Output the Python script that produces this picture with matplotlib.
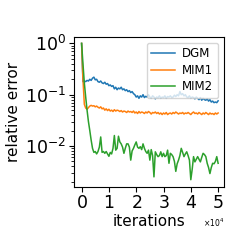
import numpy as np
import matplotlib
matplotlib.use('Agg')
import matplotlib.pyplot as plt
from matplotlib.ticker import MultipleLocator

# iteration at which each error was logged
iterations = np.arange(0, 50001, 500)

dgm = [1.0, 0.18, 0.185, 0.18, 0.19, 0.185, 0.2, 0.19, 0.21, 0.22,
       0.195, 0.2, 0.18, 0.175, 0.185, 0.17, 0.165, 0.175, 0.16, 0.165,
       0.15, 0.155, 0.145, 0.15, 0.13, 0.14, 0.125, 0.135, 0.13, 0.14,
       0.125, 0.13, 0.12, 0.125, 0.115, 0.12, 0.11, 0.115, 0.105, 0.1,
       0.09, 0.095, 0.085, 0.095, 0.09, 0.1, 0.088, 0.093, 0.09, 0.1,
       0.09, 0.085, 0.095, 0.09, 0.083, 0.09, 0.087, 0.095, 0.085, 0.09,
       0.088, 0.095, 0.085, 0.092, 0.09, 0.095, 0.088, 0.09, 0.098, 0.092,
       0.1, 0.095, 0.115, 0.1, 0.105, 0.095, 0.1, 0.09, 0.088, 0.095,
       0.085, 0.09, 0.088, 0.083, 0.09, 0.085, 0.08, 0.088, 0.078, 0.085,
       0.08, 0.078, 0.083, 0.075, 0.08, 0.072, 0.075, 0.07, 0.072, 0.07,
       0.076]

mim1 = [1.0, 0.2, 0.065, 0.055, 0.052, 0.056, 0.06, 0.062, 0.06, 0.061,
        0.058, 0.06, 0.057, 0.055, 0.058, 0.053, 0.055, 0.05, 0.053, 0.049,
        0.052, 0.048, 0.05, 0.047, 0.051, 0.048, 0.05, 0.049, 0.047, 0.049,
        0.046, 0.048, 0.047, 0.045, 0.048, 0.046, 0.047, 0.045, 0.048, 0.044,
        0.046, 0.043, 0.047, 0.044, 0.046, 0.045, 0.043, 0.046, 0.044, 0.047,
        0.045, 0.042, 0.045, 0.044, 0.046, 0.043, 0.045, 0.042, 0.044, 0.041,
        0.044, 0.042, 0.045, 0.041, 0.043, 0.044, 0.042, 0.045, 0.043, 0.046,
        0.044, 0.042, 0.044, 0.043, 0.045, 0.042, 0.044, 0.043, 0.045, 0.043,
        0.041, 0.044, 0.046, 0.043, 0.044, 0.042, 0.045, 0.043, 0.041, 0.044,
        0.042, 0.045, 0.043, 0.041, 0.044, 0.042, 0.043, 0.041, 0.044, 0.042,
        0.044]

mim2 = [1.0, 0.4, 0.17, 0.09, 0.05, 0.03, 0.02, 0.013, 0.009, 0.0075,
        0.0078, 0.007, 0.0078, 0.0095, 0.015, 0.0075, 0.0078, 0.0072, 0.0078, 0.007,
        0.0063, 0.0075, 0.007, 0.009, 0.016, 0.0083, 0.009, 0.0155, 0.012, 0.011,
        0.0095, 0.0072, 0.009, 0.011, 0.011, 0.0095, 0.0053, 0.008, 0.009, 0.0105,
        0.012, 0.0095, 0.009, 0.0097, 0.0085, 0.011, 0.009, 0.0078, 0.0072, 0.0083,
        0.0053, 0.0085, 0.0065, 0.0025, 0.0077, 0.0068, 0.0062, 0.0065, 0.0077, 0.0062,
        0.0072, 0.0062, 0.0065, 0.0083, 0.0046, 0.0072, 0.0068, 0.0062, 0.005, 0.0032,
        0.0045, 0.0053, 0.0065, 0.009, 0.0075, 0.0062, 0.007, 0.0077, 0.0065, 0.0053,
        0.0022, 0.0035, 0.0062, 0.0049, 0.0055, 0.0062, 0.0055, 0.0049, 0.006, 0.0072,
        0.0068, 0.0062, 0.0046, 0.0038, 0.0029, 0.0038, 0.0046, 0.0045, 0.005, 0.0062,
        0.0046]

fig = plt.figure(figsize=(2.49, 2.49), dpi=100)
ax = fig.add_axes([0.297, 0.251, 0.602, 0.602])

ax.plot(iterations, dgm, label="DGM", lw=1.1)
ax.plot(iterations, mim1, label="MIM1", lw=1.1)
ax.plot(iterations, mim2, label="MIM2", lw=1.1)

ax.set_yscale('log')
ax.set_ylim(10**-2.79, 10**0.133)
ax.set_xlim(-2800, 52100)
ax.xaxis.set_major_locator(MultipleLocator(10000))
ax.ticklabel_format(axis='x', style='sci', scilimits=(0, 0), useMathText=True)
ax.xaxis.get_offset_text().set_fontsize(5.5)
ax.tick_params(labelsize=12.5, pad=2)
ax.set_xlabel("iterations", fontsize=11, labelpad=1)
ax.set_ylabel("relative error", fontsize=11, labelpad=3)
ax.legend(loc='upper right', fontsize=8.5, labelspacing=0.3,
          handletextpad=0.6, borderpad=0.4)

fig.savefig("out.png", dpi=100)
